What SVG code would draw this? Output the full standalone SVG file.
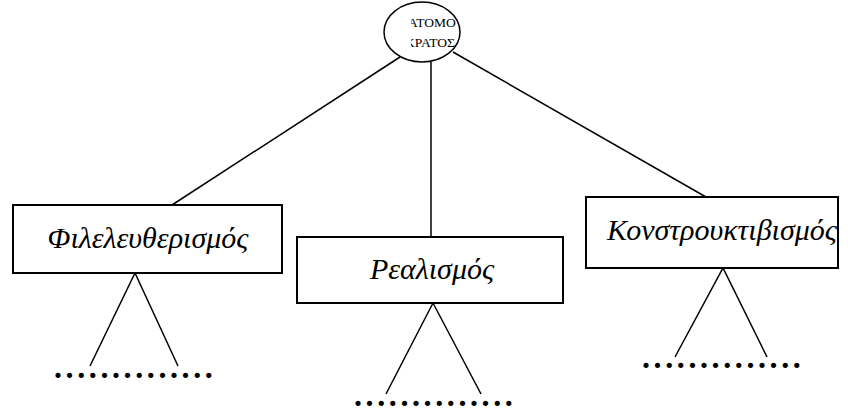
<svg xmlns="http://www.w3.org/2000/svg" width="848" height="409" viewBox="0 0 848 409">
<style>
.box{fill:#fff;stroke:#000;stroke-width:2}
.ln{stroke:#000;stroke-width:1.5;fill:none}
.lbl{font-family:"Liberation Serif","Times New Roman",serif;font-style:italic;font-size:30px;text-anchor:middle;fill:#000}
.top{font-family:"Liberation Serif","Times New Roman",serif;font-size:13.5px;fill:#000}
.dots{font-family:"Liberation Serif","Times New Roman",serif;font-weight:bold;font-size:32px;letter-spacing:3.6px;fill:#000}
</style>
<defs>
<clipPath id="tc"><rect x="411" y="8" width="52" height="45"/></clipPath>
</defs>
<g id="connectors">
<line class="ln" x1="400" y1="57" x2="172" y2="205"/>
<line class="ln" x1="431" y1="62" x2="431" y2="237"/>
<line class="ln" x1="453" y1="52" x2="706" y2="197"/>
<polyline class="ln" points="90,366 135,273 178,366"/>
<polyline class="ln" points="386,394 433,303 481,394"/>
<polyline class="ln" points="675,357 723,268 767,357"/>
</g>
<g id="root">
<ellipse cx="422" cy="32" rx="38" ry="30" fill="#fff" stroke="#000" stroke-width="1.5"/>
<g clip-path="url(#tc)">
<text class="top" x="408" y="27">ΑΤΟΜΟ</text>
<text class="top" x="405" y="47">ΚΡΑΤΟΣ</text>
</g>
</g>
<g id="liberalism">
<rect class="box" x="13" y="205" width="269" height="68"/>
<text class="lbl" x="148" y="248">Φιλελευθερισμός</text>
<text class="dots" x="54" y="378">..............</text>
</g>
<g id="realism">
<rect class="box" x="297" y="237" width="266" height="66"/>
<text class="lbl" x="432" y="279">Ρεαλισμός</text>
<text class="dots" x="354" y="406">..............</text>
</g>
<g id="constructivism">
<rect class="box" x="586" y="197" width="252" height="71"/>
<text class="lbl" x="722" y="240">Κονστρουκτιβισμός</text>
<text class="dots" x="642" y="368">..............</text>
</g>
</svg>
